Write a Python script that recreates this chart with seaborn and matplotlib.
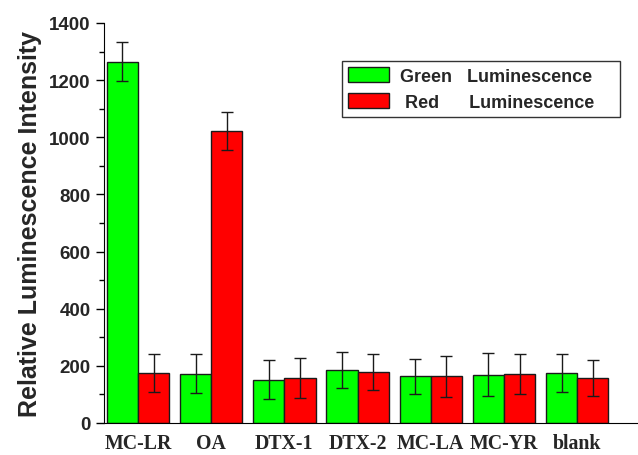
import numpy as np
import pandas as pd
import matplotlib
matplotlib.use("Agg")
import matplotlib.pyplot as plt
import seaborn as sns
from matplotlib.ticker import MultipleLocator

# Data
samples = ["MC-LR", "OA", "DTX-1", "DTX-2", "MC-LA", "MC-YR", "blank"]
green_vals = [1264, 172, 151, 185, 163, 169, 176]
green_err = [68, 68, 68, 63, 61, 75, 66]
red_vals = [175, 1021, 157, 179, 163, 172, 158]
red_err = [65, 66, 70, 63, 72, 69, 63]
series_names = ["Green   Luminescence    ", " Red      Luminescence    "]
series_colors = ["#00FF00", "#FF0000"]

df = pd.DataFrame({
    "sample": samples * 2,
    "value": green_vals + red_vals,
    "err": green_err + red_err,
    "series": [series_names[0]] * len(samples) + [series_names[1]] * len(samples),
})

sns.set_style("ticks")
fig = plt.figure(figsize=(6.38, 4.56), dpi=100)
ax = fig.add_axes([104 / 638, 1 - 424 / 456, 534 / 638, 400 / 456])

sns.barplot(data=df, x="sample", y="value", hue="series", order=samples,
            hue_order=series_names, palette=series_colors, saturation=1,
            width=0.85, errorbar=None, edgecolor="#1a1a1a", linewidth=1.0, ax=ax)

# error bars at the centre of each drawn bar
bars = [p for p in ax.patches if p.get_height() > 0]
for i, name in enumerate(series_names):
    sub = df[df["series"] == name]
    xs = [b.get_x() + b.get_width() / 2 for b in bars[i * len(samples):(i + 1) * len(samples)]]
    ax.errorbar(xs, sub["value"], yerr=sub["err"], fmt="none", ecolor="#1a1a1a",
                elinewidth=1.0, capsize=4.5, capthick=1.0)

ax.set_xlim(-0.464, 6.83)
ax.set_ylim(0, 1400)
ax.yaxis.set_major_locator(MultipleLocator(200))
ax.yaxis.set_minor_locator(MultipleLocator(100))
ax.tick_params(axis="y", which="major", direction="out", length=6, width=1, color="black")
ax.tick_params(axis="y", which="minor", direction="out", length=3.5, width=1, color="black")
ax.tick_params(axis="x", length=0, pad=7)
for s in ["top", "right"]:
    ax.spines[s].set_visible(False)
ax.spines["left"].set_color("black")
ax.spines["bottom"].set_color("black")

for lab in ax.get_yticklabels():
    lab.set_fontfamily("Liberation Sans")
    lab.set_fontweight("bold")
    lab.set_fontsize(13.5)
for lab in ax.get_xticklabels():
    lab.set_fontfamily("Liberation Serif")
    lab.set_fontweight("bold")
    lab.set_fontsize(14.3)

ax.set_xlabel("")
ax.set_ylabel("Relative Luminescence Intensity", fontfamily="Liberation Sans",
              fontweight="bold", fontsize=18, labelpad=5)

leg = ax.legend(loc="upper left", bbox_to_anchor=(0.446, 0.905), borderaxespad=0,
                frameon=True, fancybox=False, handlelength=2.3, handleheight=0.95,
                handletextpad=0.6, borderpad=0.32, labelspacing=0.45,
                prop={"family": "Liberation Sans", "weight": "bold", "size": 13})
leg.get_frame().set_edgecolor("black")
leg.get_frame().set_linewidth(1.0)

fig.savefig("out.png", dpi=100)
